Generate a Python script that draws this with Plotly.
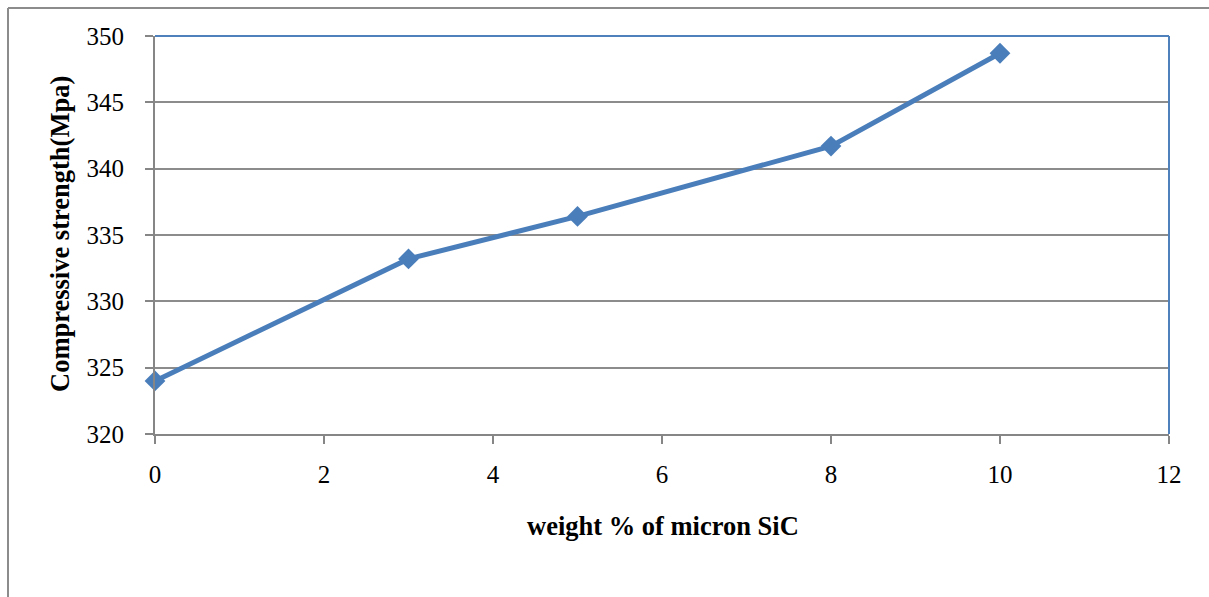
import plotly.graph_objects as go

weight_pct = [0, 3, 5, 8, 10]
strength = [324.0, 333.2, 336.4, 341.7, 348.7]

W, H = 1209, 597
L, R, T, B = 155, 1169, 36, 434

fig = go.Figure()
fig.add_trace(go.Scatter(
    x=weight_pct, y=strength, mode="lines+markers",
    line=dict(color="#4a7ebb", width=5),
    marker=dict(symbol="diamond", size=16, color="#4a7ebb"),
    showlegend=False, cliponaxis=False,
))

fam = "Liberation Serif, Times New Roman, serif"

fig.update_layout(
    width=W, height=H,
    margin=dict(l=L, r=W - R, t=T, b=H - B),
    paper_bgcolor="white", plot_bgcolor="white",
    font=dict(family=fam, size=25, color="black"),
    xaxis=dict(range=[0, 12], dtick=2, tick0=0, showgrid=False,
               showline=True, linecolor="#868686", linewidth=2,
               ticks="outside", ticklen=8, tickcolor="#868686", tickwidth=2,
               ticklabelstandoff=9,
               tickfont=dict(size=25, family=fam, color="black"), zeroline=False),
    yaxis=dict(range=[320, 350], dtick=5, showgrid=True, gridcolor="#8c8c8c", gridwidth=2,
               showline=True, linecolor="#868686", linewidth=2,
               ticks="outside", ticklen=8, tickcolor="#868686", tickwidth=2,
               ticklabelstandoff=16,
               tickfont=dict(size=25, family=fam, color="black"), zeroline=False),
)

def px_x(p):
    return (p - L) / (R - L)

def px_y(p):
    return (B - p) / (B - T)

# blue top & right plot border
fig.add_shape(type="line", xref="paper", yref="paper", x0=0, x1=1, y0=1, y1=1,
              line=dict(color="#4f81bd", width=2))
fig.add_shape(type="line", xref="paper", yref="paper", x0=1, x1=1, y0=0, y1=1,
              line=dict(color="#4f81bd", width=2))
# outer frame (top and left visible)
fig.add_shape(type="line", xref="paper", yref="paper", x0=px_x(8), x1=px_x(1215),
              y0=px_y(8), y1=px_y(8), line=dict(color="#8c8c8c", width=2))
fig.add_shape(type="line", xref="paper", yref="paper", x0=px_x(8), x1=px_x(8),
              y0=px_y(8), y1=px_y(605), line=dict(color="#8c8c8c", width=2))

fig.add_annotation(text="<b>weight % of micron SiC</b>", xref="paper", yref="paper",
                   x=px_x(663), y=px_y(526), showarrow=False,
                   xanchor="center", yanchor="middle",
                   font=dict(size=26.5, family=fam, color="black"))
fig.add_annotation(text="<b>Compressive strength(Mpa)</b>", xref="paper", yref="paper",
                   x=px_x(60), y=px_y(234), showarrow=False, textangle=-90,
                   xanchor="center", yanchor="middle",
                   font=dict(size=26.5, family=fam, color="black"))

fig.write_html("out.html")
